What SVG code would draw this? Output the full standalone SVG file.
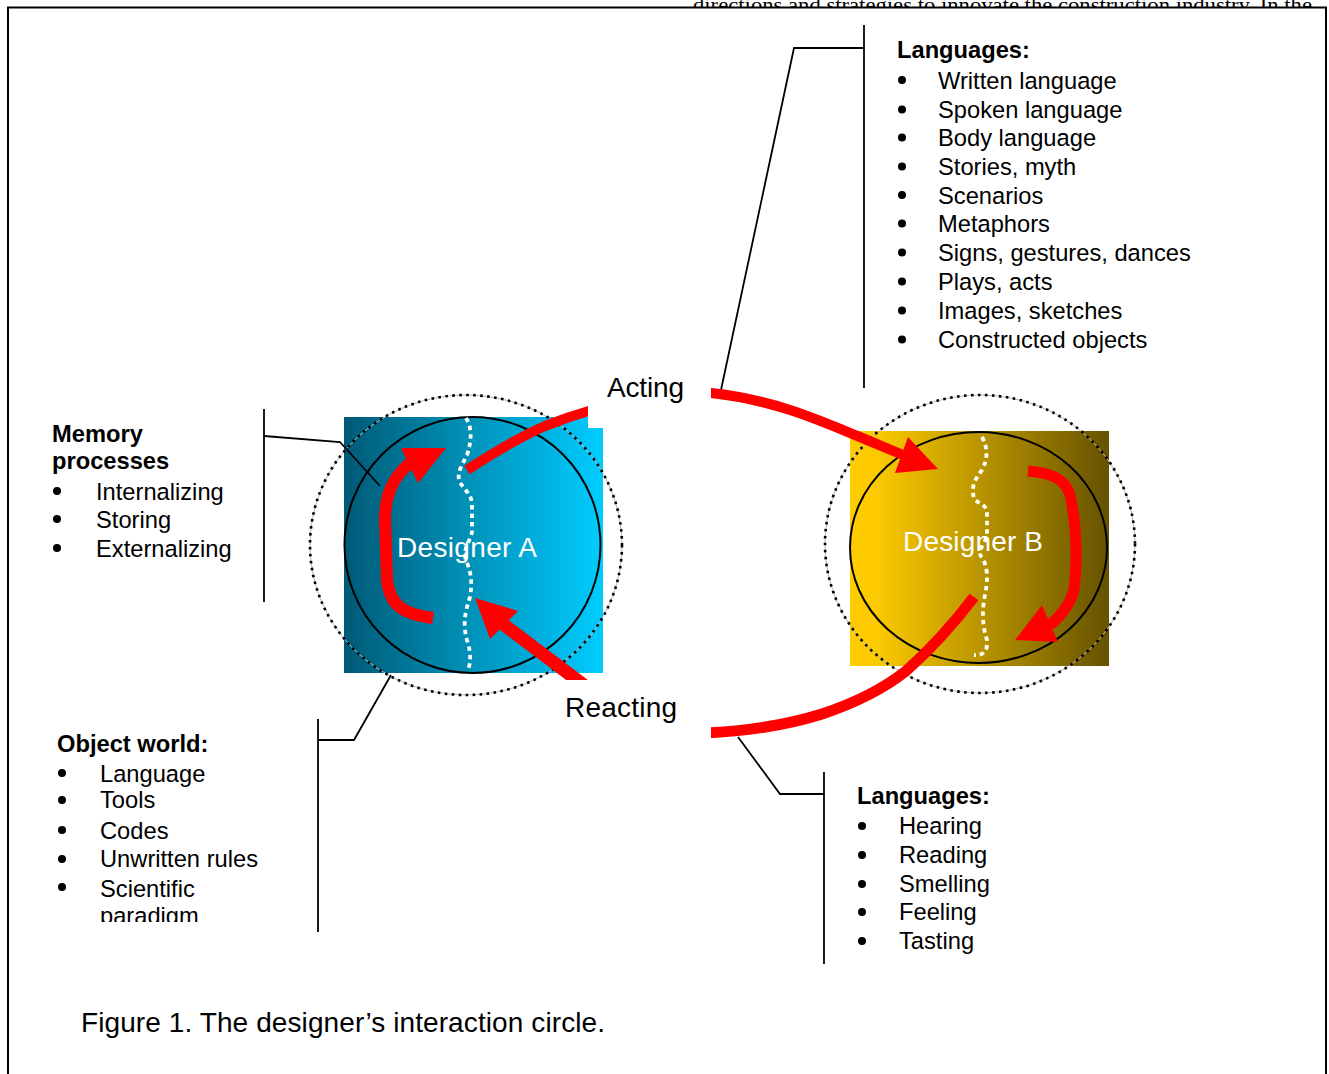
<svg xmlns="http://www.w3.org/2000/svg" width="1329" height="1074" viewBox="0 0 1329 1074">
  <defs>
    <linearGradient id="gradA" x1="0" y1="0" x2="1" y2="0">
      <stop offset="0" stop-color="#005a76"/>
      <stop offset="1" stop-color="#00ccff"/>
    </linearGradient>
    <linearGradient id="gradB" x1="0" y1="0" x2="1" y2="0">
      <stop offset="0" stop-color="#ffcc00"/>
      <stop offset="0.1" stop-color="#fcca00"/>
      <stop offset="1" stop-color="#665200"/>
    </linearGradient>
    <clipPath id="clipObject">
      <rect x="40" y="700" width="280" height="222"/>
    </clipPath>
    <style>
      .t { font-family: "Liberation Sans", Arial, sans-serif; font-size: 23.7px; fill: #000; }
      .b { font-weight: bold; }
      .big { font-family: "Liberation Sans", Arial, sans-serif; font-size: 28px; fill: #000; }
      .white { fill: #fff; }
      .call { fill: none; stroke: #000; stroke-width: 1.8; }
      .ring { fill: none; stroke: #000; stroke-width: 2; }
      .dotbase { fill: none; stroke: #b8b8b8; stroke-width: 1; }
      .dots { fill: none; stroke: #000; stroke-width: 2.6; stroke-dasharray: 2.6 4.4; }
      .seam { fill: none; stroke: #fff; stroke-width: 3.8; stroke-dasharray: 4.5 4; }
      .red { fill: none; stroke: #ff0000; stroke-linecap: butt; stroke-linejoin: round; }
      .head { fill: #ff0000; }
      .bul { fill: #000; }
    </style>
  </defs>

  <!-- page background and frame -->
  <g id="frame">
    <rect x="0" y="0" width="1329" height="1074" fill="#fff"/>
    <text x="693" y="12" font-family="'Liberation Serif', 'Times New Roman', serif" font-size="20" textLength="619" lengthAdjust="spacingAndGlyphs">directions and strategies to innovate the construction industry. In the</text>
    <rect x="8" y="7.5" width="1318" height="1080" fill="#fff" stroke="#000" stroke-width="2"/>
  </g>

  <!-- Designer A -->
  <g id="designer-a">
    <rect x="344" y="417" width="259" height="256" fill="url(#gradA)"/>
    <circle cx="472.5" cy="545" r="128" class="ring"/>
    <ellipse cx="466" cy="545" rx="156" ry="150" class="dotbase"/>
    <ellipse cx="466" cy="545" rx="156" ry="150" class="dots"/>
    <path class="seam" d="M466,418 C472,428 472,440 467,455 C462,465 456,474 460,482 C464,490 472,494 472,505 L472,532 C470,542 462,550 466,560 C470,570 473,580 470,597 C466,610 462,622 467,640 C471,652 471,662 468,670"/>
    <text x="397" y="557" class="big white" textLength="140">Designer A</text>
  </g>

  <!-- Designer B -->
  <g id="designer-b">
    <rect x="850" y="431" width="259" height="235" fill="url(#gradB)"/>
    <ellipse cx="978.5" cy="547.5" rx="128.5" ry="115.5" class="ring"/>
    <ellipse cx="980" cy="544" rx="155" ry="149" class="dotbase"/>
    <ellipse cx="980" cy="544" rx="155" ry="149" class="dots"/>
    <path class="seam" d="M982,437 C988,448 988,458 982,470 C974,480 970,490 975,500 C982,505 987,505 987,515 L987,535 C985,545 976,550 982,558 C988,566 988,580 985,595 C982,610 982,625 987,640 C988,650 984,656 974,655"/>
    <text x="903" y="551" class="big white" textLength="140">Designer B</text>
  </g>

  <!-- callout lines and interaction arrows -->
  <g id="connectors">
    <line x1="864" y1="25" x2="864" y2="388" class="call"/>
    <polyline points="864,48 794,48 721,390" class="call"/>

    <line x1="264" y1="409" x2="264" y2="602" class="call"/>
    <polyline points="264,436 340,442 380,486" class="call"/>

    <line x1="318" y1="719" x2="318" y2="932" class="call"/>
    <polyline points="318,740 354,740 391,675" class="call"/>

    <line x1="824" y1="772" x2="824" y2="964" class="call"/>
    <polyline points="824,794 780,794 738,737" class="call"/>

    <!-- acting: A to B -->
    <path class="red" stroke-width="10" d="M467,470 C490,455 520,437 545,426 C565,418 578,414 592,410 L711,393 C740,396 762,401 790,410 C815,418 838,428 860,437 L903,455"/>
    <polygon class="head" points="908,437 938,469 895,473"/>

    <!-- reacting: B to A -->
    <path class="red" stroke-width="11" d="M974,597 C958,618 932,648 906,671 C882,690 852,704 822,714 C790,724 752,731 705,733"/>
    <path class="red" stroke-width="13" d="M585,686 L503,624"/>
    <polygon class="head" points="475,598 518,611 490,639"/>

    <!-- internal loop in A -->
    <path class="red" stroke-width="12" d="M433,618 C402,614 390,605 387,580 L385,520 C385,496 392,478 410,463"/>
    <polygon class="head" points="401,448 446,448 418,483"/>

    <!-- internal loop in B -->
    <path class="red" stroke-width="11" d="M1028,471 C1050,473 1065,478 1070,495 C1076,520 1078,560 1074,590 C1070,605 1062,615 1050,625"/>
    <polygon class="head" points="1042,605 1058,642 1015,640"/>
  </g>

  <!-- arrow labels on white boxes -->
  <g id="label-acting">
    <rect x="588" y="360" width="123" height="68" fill="#fff"/>
    <text x="607" y="397" class="big" textLength="77">Acting</text>
  </g>
  <g id="label-reacting">
    <rect x="548" y="680" width="163" height="65" fill="#fff"/>
    <text x="565" y="717" class="big" textLength="112">Reacting</text>
  </g>

  <!-- expressive languages -->
  <g id="list-languages-out">
    <text x="897" y="58" class="t b">Languages:</text>
    <circle class="bul" cx="902" cy="80" r="4"/><text x="938" y="88.5" class="t">Written language</text>
    <circle class="bul" cx="902" cy="109.5" r="4"/><text x="938" y="118" class="t">Spoken language</text>
    <circle class="bul" cx="902" cy="137.5" r="4"/><text x="938" y="146" class="t">Body language</text>
    <circle class="bul" cx="902" cy="166.5" r="4"/><text x="938" y="175" class="t">Stories, myth</text>
    <circle class="bul" cx="902" cy="195" r="4"/><text x="938" y="203.5" class="t">Scenarios</text>
    <circle class="bul" cx="902" cy="223.5" r="4"/><text x="938" y="232" class="t">Metaphors</text>
    <circle class="bul" cx="902" cy="252.5" r="4"/><text x="938" y="261" class="t">Signs, gestures, dances</text>
    <circle class="bul" cx="902" cy="281.5" r="4"/><text x="938" y="290" class="t">Plays, acts</text>
    <circle class="bul" cx="902" cy="310.5" r="4"/><text x="938" y="319" class="t">Images, sketches</text>
    <circle class="bul" cx="902" cy="339.5" r="4"/><text x="938" y="348" class="t">Constructed objects</text>
  </g>

  <!-- memory processes -->
  <g id="list-memory">
    <text x="52" y="442" class="t b">Memory</text>
    <text x="52" y="469" class="t b">processes</text>
    <circle class="bul" cx="57" cy="491" r="4"/><text x="96" y="500" class="t">Internalizing</text>
    <circle class="bul" cx="57" cy="519" r="4"/><text x="96" y="528" class="t">Storing</text>
    <circle class="bul" cx="57" cy="548" r="4"/><text x="96" y="557" class="t">Externalizing</text>
  </g>

  <!-- object world -->
  <g id="list-object-world">
    <text x="57" y="752" class="t b">Object world:</text>
    <circle class="bul" cx="62" cy="773" r="4"/><text x="100" y="782" class="t">Language</text>
    <circle class="bul" cx="62" cy="800" r="4"/><text x="100" y="808" class="t">Tools</text>
    <circle class="bul" cx="62" cy="830" r="4"/><text x="100" y="839" class="t">Codes</text>
    <circle class="bul" cx="62" cy="859" r="4"/><text x="100" y="867" class="t">Unwritten rules</text>
    <circle class="bul" cx="62" cy="887" r="4"/><text x="100" y="897" class="t">Scientific</text>
    <text x="100" y="924" class="t" clip-path="url(#clipObject)">paradigm</text>
  </g>

  <!-- receptive languages -->
  <g id="list-languages-in">
    <text x="857" y="804" class="t b">Languages:</text>
    <circle class="bul" cx="862" cy="826" r="4"/><text x="899" y="834" class="t">Hearing</text>
    <circle class="bul" cx="862" cy="855" r="4"/><text x="899" y="863" class="t">Reading</text>
    <circle class="bul" cx="862" cy="884" r="4"/><text x="899" y="892" class="t">Smelling</text>
    <circle class="bul" cx="862" cy="912" r="4"/><text x="899" y="920" class="t">Feeling</text>
    <circle class="bul" cx="862" cy="941" r="4"/><text x="899" y="949" class="t">Tasting</text>
  </g>

  <!-- caption -->
  <g id="caption">
    <text x="81" y="1032" class="big" textLength="524">Figure 1. The designer’s interaction circle.</text>
  </g>
</svg>
